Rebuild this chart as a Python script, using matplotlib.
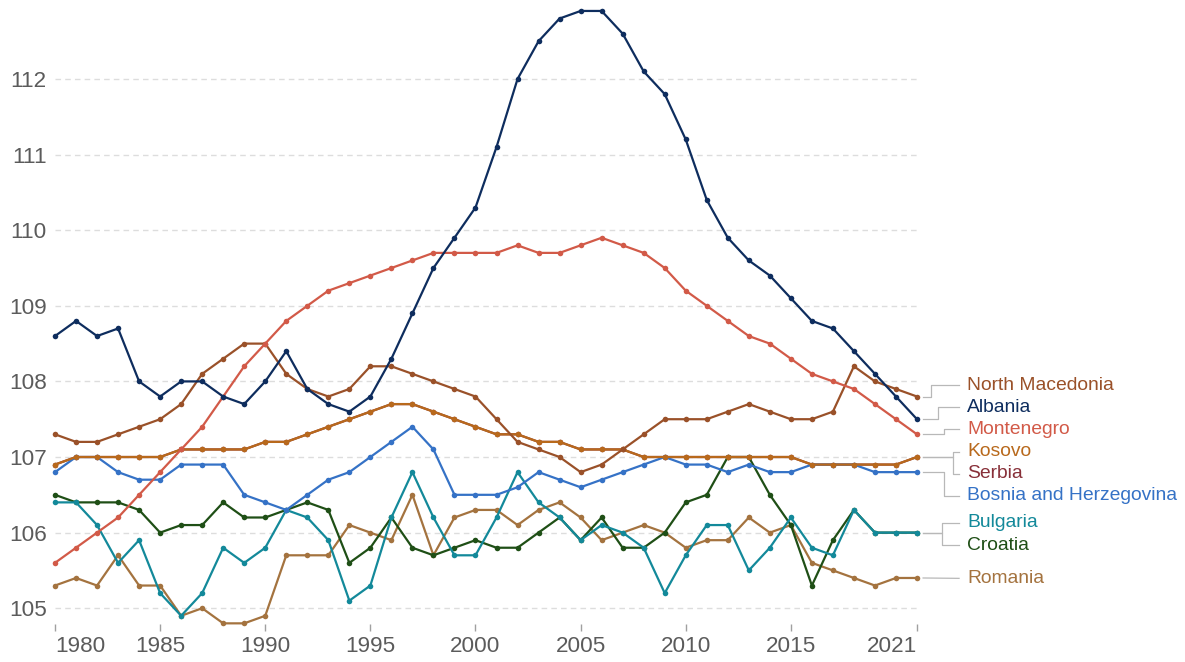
import matplotlib
matplotlib.use("Agg")
import matplotlib.pyplot as plt
import numpy as np

years = list(range(1980, 2022))

albania = [108.6, 108.8, 108.6, 108.7, 108.0, 107.8, 108.0, 108.0, 107.8, 107.7,
           108.0, 108.4, 107.9, 107.7, 107.6, 107.8, 108.3, 108.9, 109.5, 109.9,
           110.3, 111.1, 112.0, 112.5, 112.8, 112.9, 112.9, 112.6, 112.1, 111.8,
           111.2, 110.4, 109.9, 109.6, 109.4, 109.1, 108.8, 108.7, 108.4, 108.1,
           107.8, 107.5]
montenegro = [105.6, 105.8, 106.0, 106.2, 106.5, 106.8, 107.1, 107.4, 107.8, 108.2,
              108.5, 108.8, 109.0, 109.2, 109.3, 109.4, 109.5, 109.6, 109.7, 109.7,
              109.7, 109.7, 109.8, 109.7, 109.7, 109.8, 109.9, 109.8, 109.7, 109.5,
              109.2, 109.0, 108.8, 108.6, 108.5, 108.3, 108.1, 108.0, 107.9, 107.7,
              107.5, 107.3]
north_macedonia = [107.3, 107.2, 107.2, 107.3, 107.4, 107.5, 107.7, 108.1, 108.3, 108.5,
                   108.5, 108.1, 107.9, 107.8, 107.9, 108.2, 108.2, 108.1, 108.0, 107.9,
                   107.8, 107.5, 107.2, 107.1, 107.0, 106.8, 106.9, 107.1, 107.3, 107.5,
                   107.5, 107.5, 107.6, 107.7, 107.6, 107.5, 107.5, 107.6, 108.2, 108.0,
                   107.9, 107.8]
kosovo = [106.9, 107.0, 107.0, 107.0, 107.0, 107.0, 107.1, 107.1, 107.1, 107.1,
          107.2, 107.2, 107.3, 107.4, 107.5, 107.6, 107.7, 107.7, 107.6, 107.5,
          107.4, 107.3, 107.3, 107.2, 107.2, 107.1, 107.1, 107.1, 107.0, 107.0,
          107.0, 107.0, 107.0, 107.0, 107.0, 107.0, 106.9, 106.9, 106.9, 106.9,
          106.9, 107.0]
serbia = [106.9, 107.0, 107.0, 107.0, 107.0, 107.0, 107.1, 107.1, 107.1, 107.1,
          107.2, 107.2, 107.3, 107.4, 107.5, 107.6, 107.7, 107.7, 107.6, 107.5,
          107.4, 107.3, 107.3, 107.2, 107.2, 107.1, 107.1, 107.1, 107.0, 107.0,
          107.0, 107.0, 107.0, 107.0, 107.0, 107.0, 106.9, 106.9, 106.9, 106.9,
          106.9, 107.0]
bosnia = [106.8, 107.0, 107.0, 106.8, 106.7, 106.7, 106.9, 106.9, 106.9, 106.5,
          106.4, 106.3, 106.5, 106.7, 106.8, 107.0, 107.2, 107.4, 107.1, 106.5,
          106.5, 106.5, 106.6, 106.8, 106.7, 106.6, 106.7, 106.8, 106.9, 107.0,
          106.9, 106.9, 106.8, 106.9, 106.8, 106.8, 106.9, 106.9, 106.9, 106.8,
          106.8, 106.8]
bulgaria = [106.4, 106.4, 106.1, 105.6, 105.9, 105.2, 104.9, 105.2, 105.8, 105.6,
            105.8, 106.3, 106.2, 105.9, 105.1, 105.3, 106.2, 106.8, 106.2, 105.7,
            105.7, 106.2, 106.8, 106.4, 106.2, 105.9, 106.1, 106.0, 105.8, 105.2,
            105.7, 106.1, 106.1, 105.5, 105.8, 106.2, 105.8, 105.7, 106.3, 106.0,
            106.0, 106.0]
croatia = [106.5, 106.4, 106.4, 106.4, 106.3, 106.0, 106.1, 106.1, 106.4, 106.2,
           106.2, 106.3, 106.4, 106.3, 105.6, 105.8, 106.2, 105.8, 105.7, 105.8,
           105.9, 105.8, 105.8, 106.0, 106.2, 105.9, 106.2, 105.8, 105.8, 106.0,
           106.4, 106.5, 107.0, 107.0, 106.5, 106.1, 105.3, 105.9, 106.3, 106.0,
           106.0, 106.0]
romania = [105.3, 105.4, 105.3, 105.7, 105.3, 105.3, 104.9, 105.0, 104.8, 104.8,
           104.9, 105.7, 105.7, 105.7, 106.1, 106.0, 105.9, 106.5, 105.7, 106.2,
           106.3, 106.3, 106.1, 106.3, 106.4, 106.2, 105.9, 106.0, 106.1, 106.0,
           105.8, 105.9, 105.9, 106.2, 106.0, 106.1, 105.6, 105.5, 105.4, 105.3,
           105.4, 105.4]

y_ticks = [105, 106, 107, 108, 109, 110, 111, 112]
x_ticks = [1980, 1985, 1990, 1995, 2000, 2005, 2010, 2015, 2021]

# name, data, colour (draw order: first drawn lowest)
series = [
    ("Serbia", serbia, "#883039"),
    ("Romania", romania, "#A4733F"),
    ("Croatia", croatia, "#1F4F16"),
    ("Bulgaria", bulgaria, "#13899A"),
    ("Bosnia and Herzegovina", bosnia, "#3572C6"),
    ("Kosovo", kosovo, "#B8691C"),
    ("North Macedonia", north_macedonia, "#9A5129"),
    ("Montenegro", montenegro, "#D25A48"),
    ("Albania", albania, "#0E2D5E"),
]

# label layout (vertical position of each label, in axis units) and connector elbow x
label_layout = {
    "North Macedonia": (107.952, 2021.65),
    "Albania": (107.661, 2022.0),
    "Montenegro": (107.366, 2022.3),
    "Kosovo": (107.07, 2022.7),
    "Serbia": (106.78, 2022.7),
    "Bosnia and Herzegovina": (106.488, 2022.3),
    "Bulgaria": (106.131, 2022.2),
    "Croatia": (105.836, 2022.2),
    "Romania": (105.395, None),
}

plt.rcParams['font.family'] = ['Liberation Sans', 'DejaVu Sans']

W, H = 1185, 662
fig = plt.figure(figsize=(W / 100, H / 100), dpi=100)
ax_left, ax_right, ax_top, ax_bottom = 55, 917, 3.4, 630.9
ax = fig.add_axes([ax_left / W, (H - ax_bottom) / H,
                   (ax_right - ax_left) / W, (ax_bottom - ax_top) / H])
ax.set_xlim(1980, 2021)
ax.set_ylim(104.7, 113.0)

for name, vals, col in series:
    ax.plot(years, vals, color=col, lw=1.6, marker='o', ms=4.0,
            markeredgewidth=0, clip_on=False, zorder=3)

for s in ax.spines.values():
    s.set_visible(False)

ax.set_yticks(y_ticks)
ax.set_yticklabels([str(v) for v in y_ticks])
ax.set_xticks(x_ticks)
ax.set_xticklabels([str(v) for v in x_ticks])
ax.tick_params(axis='y', length=0, pad=6, labelsize=16.2, labelcolor='#5b5b5b')
ax.tick_params(axis='x', direction='in', length=5, width=1, color='#a0a0a0',
               pad=4, labelsize=16.2, labelcolor='#5b5b5b')
labels = ax.get_xticklabels()
labels[0].set_horizontalalignment('left')
labels[-1].set_horizontalalignment('right')

ax.yaxis.grid(True, color='#dddddd', lw=1, linestyle=(0, (4, 3)))
ax.xaxis.grid(False)
ax.set_axisbelow(True)

# labels and connectors
x_start = 2021.29
x_text_line = 2023.0
x_text = 2023.4
conn_col = '#b8b8b8'
for name, vals, col in series:
    ly, elbow = label_layout[name]
    end = vals[-1]
    if elbow is None:
        ax.plot([x_start, x_text_line], [end, ly], color=conn_col, lw=0.9,
                clip_on=False, zorder=1)
    else:
        ax.plot([x_start, elbow, elbow, x_text_line], [end, end, ly, ly],
                color=conn_col, lw=0.9, clip_on=False, zorder=1)
    ax.text(x_text, ly, name, color=col, fontsize=13.9, va='center', ha='left',
            clip_on=False)

fig.savefig("out.png", dpi=100)
